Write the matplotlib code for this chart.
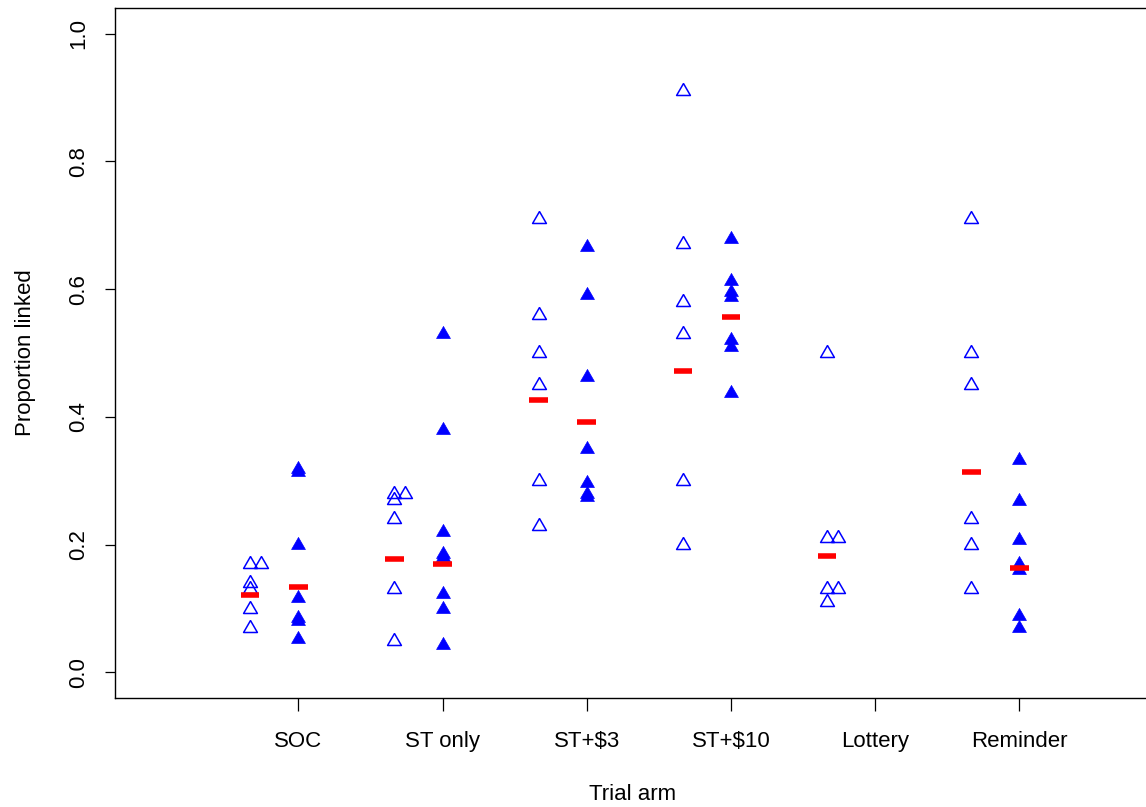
import matplotlib
matplotlib.use("Agg")
from matplotlib import pyplot as plt
from matplotlib.ticker import FormatStrFormatter
import numpy as np

plt.rcParams["font.family"] = ["Liberation Sans", "DejaVu Sans"]

arms = ["SOC", "ST only", "ST+$3", "ST+$10", "Lottery", "Reminder"]

# open triangles (left of each arm)
soc_open = [0.17, 0.17, 0.14, 0.13, 0.10, 0.07]
st_open = [0.28, 0.28, 0.27, 0.24, 0.13, 0.05]
st3_open = [0.71, 0.56, 0.50, 0.45, 0.30, 0.23]
st10_open = [0.91, 0.67, 0.58, 0.53, 0.30, 0.20]
lottery_open = [0.50, 0.21, 0.21, 0.13, 0.13, 0.11]
reminder_open = [0.71, 0.50, 0.45, 0.24, 0.20, 0.13]

# filled triangles (at each arm)
soc_filled = [0.318, 0.313, 0.20, 0.117, 0.085, 0.08, 0.052]
st_filled = [0.53, 0.38, 0.22, 0.185, 0.18, 0.123, 0.10, 0.043]
st3_filled = [0.666, 0.591, 0.462, 0.35, 0.297, 0.28, 0.275]
st10_filled = [0.679, 0.613, 0.595, 0.588, 0.52, 0.51, 0.438]
lottery_filled = []
reminder_filled = [0.332, 0.268, 0.207, 0.17, 0.16, 0.089, 0.070]

# red summary bars
open_summary = [0.122, 0.178, 0.427, 0.472, 0.183, 0.314]
filled_summary = [0.134, 0.170, 0.392, 0.557, None, 0.163]

open_groups = [soc_open, st_open, st3_open, st10_open, lottery_open, reminder_open]
filled_groups = [soc_filled, st_filled, st3_filled, st10_filled, lottery_filled, reminder_filled]

# R style triangle (centroid at the point)
tri = [(0, 1.555), (1.347, -0.778), (-1.347, -0.778), (0, 1.555)]

blue = "#0000FF"
red = "#FF0000"
fontsize = 16
shift = 1 / 3
stack = 0.076


def stacked_x(x0, values):
    # duplicates side by side, like stripchart(method="stack")
    xs = []
    seen = {}
    for v in values:
        n = seen.get(v, 0)
        xs.append(x0 + n * stack)
        seen[v] = n + 1
    return xs


fig = plt.figure(figsize=(11.46, 8.07), dpi=100)
ax = fig.add_axes([115 / 1146, (807 - 698) / 807, (1150 - 115) / 1146, (698 - 8) / 807])

pos = np.arange(1, len(arms) + 1)

for i, vals in enumerate(open_groups):
    if vals:
        ax.plot(stacked_x(pos[i] - shift, vals), vals, linestyle="none", marker=tri,
                markersize=11.5, markerfacecolor="none", markeredgecolor=blue,
                markeredgewidth=1.1, zorder=3)

for i, vals in enumerate(filled_groups):
    if vals:
        ax.plot(stacked_x(pos[i], vals), vals, linestyle="none", marker=tri,
                markersize=11.5, markerfacecolor=blue, markeredgecolor=blue,
                markeredgewidth=0.5, zorder=3)

for i in range(len(arms)):
    if open_summary[i] is not None:
        ax.hlines(open_summary[i], pos[i] - shift - 0.064, pos[i] - shift + 0.064,
                  color=red, linewidth=4, zorder=4)
    if filled_summary[i] is not None:
        ax.hlines(filled_summary[i], pos[i] - 0.064, pos[i] + 0.064,
                  color=red, linewidth=4, zorder=4)

ax.set_xlim(-0.271, 6.906)
ax.set_ylim(-0.04, 1.04)
ax.set_xticks(pos)
ax.set_xticklabels(arms)
ax.set_yticks([0.0, 0.2, 0.4, 0.6, 0.8, 1.0])
ax.yaxis.set_major_formatter(FormatStrFormatter("%.1f"))

ax.tick_params(axis="x", length=9.5, width=0.9, pad=14, labelsize=fontsize, colors="black")
ax.tick_params(axis="y", length=7.5, width=0.9, pad=11, labelsize=fontsize, colors="black")
for lab in ax.get_yticklabels():
    lab.set_rotation(90)
    lab.set_va("center")

for s in ax.spines.values():
    s.set_linewidth(1.0)

ax.set_xlabel("Trial arm", fontsize=fontsize, labelpad=23)
ax.set_ylabel("Proportion linked", fontsize=fontsize, labelpad=23)

fig.savefig("out.png", dpi=100)
